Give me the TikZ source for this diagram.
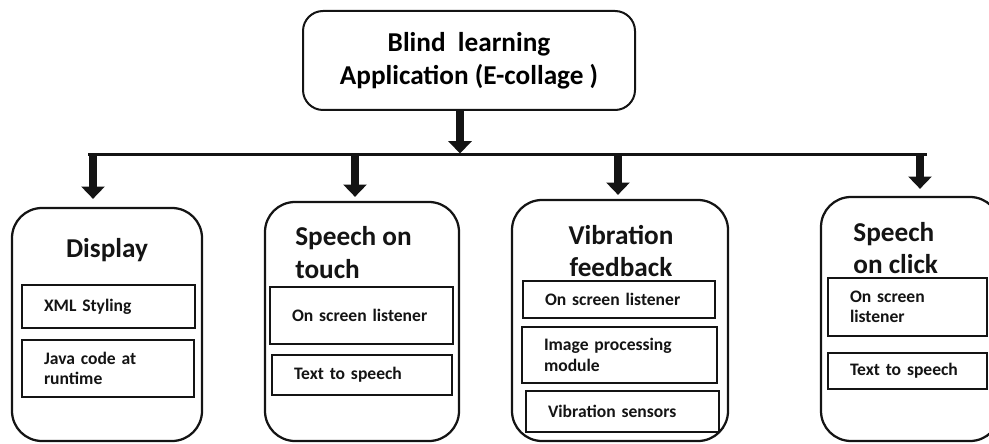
\documentclass[tikz,border=0pt]{standalone}
\usepackage{fontspec}
\setmainfont{Carlito}
\usetikzlibrary{arrows.meta, positioning}
\definecolor{myink}{RGB}{20,20,20}
\tikzset{
  topbox/.style={rectangle,draw=myink,rounded corners=0.4cm,line width=0.04cm,align=center,
    minimum width=6.64cm,minimum height=1.98cm,inner sep=0pt,font=\fontsize{15.5}{18.5}\selectfont\bfseries},
  panel/.style={rectangle,draw=myink,rounded corners=0.6cm,line width=0.045cm,inner sep=0pt},
  title/.style={inner sep=0pt,text=myink,font=\fontsize{15.5}{18.5}\selectfont\bfseries},
  item/.style={rectangle,draw=myink,line width=0.04cm,align=left,inner xsep=0.44cm,inner ysep=0pt,
    text=myink,font=\fontsize{10}{11.5}\selectfont\bfseries},
  busline/.style={line width=0.06cm,color=myink},
  fatarrow/.style={-{Triangle[width=13pt,length=7pt]},line width=4.5pt,color=myink}
}
\begin{document}
\begin{tikzpicture}
  \clip (0,0) rectangle (19.78,8.86);

  % Application
  \node[topbox] (app) at (9.38,7.65) {Blind~~learning\\Application (E-collage )};

  % bus
  \coordinate (busL) at (1.76,5.76);
  \coordinate (busR) at (18.54,5.76);
  \coordinate (b0) at (9.20,5.76);
  \coordinate (b1) at (1.86,5.76);
  \coordinate (b2) at (7.10,5.76);
  \coordinate (b3) at (12.36,5.76);
  \coordinate (b4) at (18.40,5.76);
  \draw[busline] (busL) -- (busR);
  \draw[fatarrow, shorten >=0.03cm] (b0 |- app.south) -- (b0);

  % Display
  \node[panel, minimum width=3.80cm, minimum height=4.66cm] (disp) at (2.14,2.37) {};
  \node[title] (dispT) at (2.14,3.86) {Display};
  \node[item, text width=2.58cm, minimum height=0.86cm] (xml) at (2.17,2.73) {XML Styling};
  \node[item, text width=2.56cm, minimum height=1.14cm] (java) at (2.16,1.49) {Java code at\\runtime};

  % Speech on touch
  \node[panel, minimum width=3.88cm, minimum height=4.78cm] (touch) at (7.24,2.43) {};
  \node[title, anchor=west, align=left] (touchT) at (5.90,3.81) {Speech on\\touch};
  \node[item, text width=2.78cm, minimum height=1.14cm] (touchL) at (7.23,2.55) {On screen listener};
  \node[item, text width=2.72cm, minimum height=0.80cm] (touchS) at (7.24,1.36) {Text to speech};

  % Vibration feedback
  \node[panel, minimum width=4.32cm, minimum height=4.82cm] (vib) at (12.40,2.45) {};
  \node[title, align=center] (vibT) at (12.42,3.84) {Vibration\\feedback};
  \node[item, text width=2.96cm, minimum height=0.74cm] (vibL) at (12.38,2.87) {On screen listener};
  \node[item, text width=3.02cm, minimum height=1.12cm] (vibI) at (12.39,1.76) {Image processing\\module};
  \node[item, text width=2.98cm, minimum height=0.82cm] (vibS) at (12.45,0.63) {Vibration sensors};

  % Speech on click
  \node[panel, minimum width=3.58cm, minimum height=4.88cm] (click) at (18.21,2.48) {};
  \node[title, anchor=west, align=left] (clickT) at (17.06,3.90) {Speech\\on click};
  \node[item, text width=2.30cm, minimum height=1.16cm] (clickL) at (18.15,2.72) {On screen\\listener};
  \node[item, text width=2.30cm, minimum height=0.72cm] (clickS) at (18.15,1.44) {Text to speech};

  % arrows down
  \draw[fatarrow, shorten >=0.16cm] (b1) -- (b1 |- disp.north);
  \draw[fatarrow, shorten >=0.08cm] (b2) -- (b2 |- touch.north);
  \draw[fatarrow, shorten >=0.08cm] (b3) -- (b3 |- vib.north);
  \draw[fatarrow, shorten >=0.14cm] (b4) -- (b4 |- click.north);
\end{tikzpicture}
\end{document}
